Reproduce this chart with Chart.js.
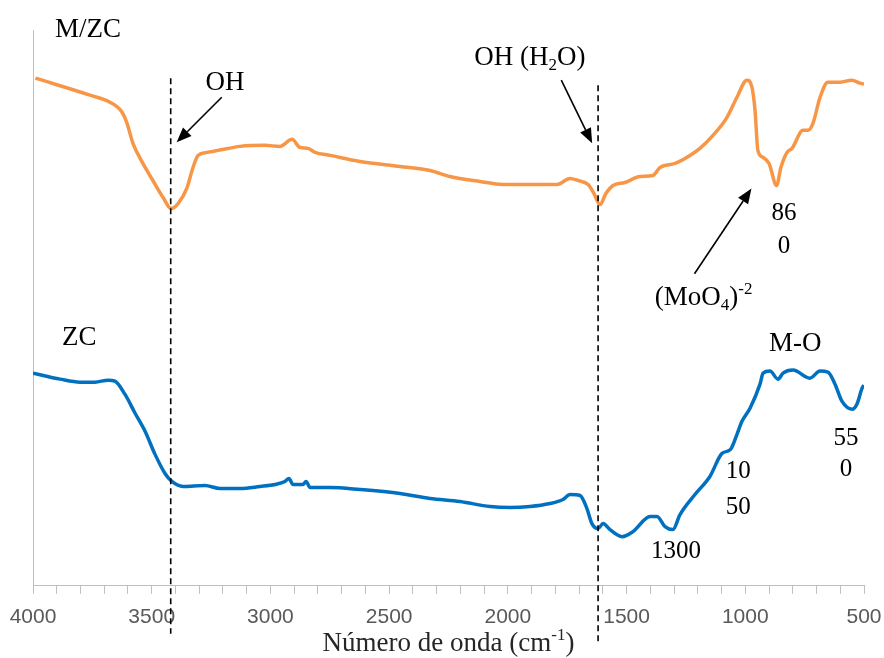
<!DOCTYPE html>
<html>
<head>
<meta charset="utf-8">
<script src="https://cdn.jsdelivr.net/npm/chart.js@4.4.1/dist/chart.umd.min.js"></script>
<style>
  body { margin: 0; background: #fff; }
  #wrap { width: 884px; height: 658px; }
</style>
</head>
<body>
<div id="wrap"><canvas id="ftirChart"></canvas></div>
<script>
// M/ZC spectrum: wavenumber (cm-1) and relative transmittance (offset, a.u.)
const mzcWave = [3990, 3760, 3676, 3625, 3604, 3579, 3537, 3495, 3452, 3419, 3389, 3351, 3330, 3305, 3267, 3221, 3128, 3023, 2960, 2909, 2876, 2842, 2812, 2749, 2623, 2454, 2328, 2244, 2117, 2021, 1907, 1793, 1738, 1705, 1662, 1637, 1612, 1587, 1557, 1507, 1443, 1389, 1359, 1296, 1233, 1191, 1136, 1077, 1035, 993, 972, 959, 947, 925, 900, 868, 850, 824, 803, 757, 736, 715, 685, 652, 601, 551, 517, 500];
const mzcT = [506, 489, 482, 472, 461, 441, 421, 404, 387, 376, 381, 397, 414, 429, 432, 434, 438, 439, 438, 445, 437, 436, 432, 429, 423, 418, 414, 408, 403, 400, 400, 400, 406, 404, 400, 391, 380, 391, 399, 402, 408, 409, 417, 421, 429, 436, 449, 467, 487, 504, 497, 474, 434, 427, 421, 399, 417, 432, 436, 454, 454, 461, 487, 502, 502, 504, 501, 500];

// ZC spectrum
const zcWave = [4000, 3886, 3802, 3739, 3684, 3655, 3613, 3570, 3528, 3486, 3444, 3415, 3368, 3276, 3212, 3128, 3044, 2981, 2939, 2922, 2905, 2863, 2850, 2833, 2749, 2623, 2454, 2328, 2202, 2075, 1991, 1907, 1823, 1768, 1738, 1696, 1667, 1646, 1620, 1599, 1570, 1519, 1473, 1401, 1372, 1338, 1305, 1275, 1212, 1149, 1098, 1062, 1035, 1014, 980, 938, 925, 896, 862, 841, 799, 728, 685, 652, 622, 593, 550, 530, 508, 500];
const zcT = [212, 206, 203, 203, 205, 204, 191, 172, 154, 131, 112, 104, 99, 100, 97, 97, 99, 101, 104, 107, 101, 101, 104, 98, 98, 96, 92, 87, 84, 79, 78, 79, 82, 86, 91, 90, 77, 62, 57, 62, 56, 49, 54, 69, 69, 59, 56, 71, 91, 109, 132, 136, 151, 164, 177, 201, 212, 214, 206, 212, 215, 207, 214, 213, 201, 184, 176, 181, 197, 200];

const xLabels = [4000, 3500, 3000, 2500, 2000, 1500, 1000, 500];
const markerLines = [3420, 1620];

const SERIF = '"Liberation Serif", "Times New Roman", serif';

function toPoints(xs, ys) {
    return xs.map((v, i) => ({ x: v, y: ys[i] }));
}

// draw a label built from pieces, some of them sub/superscript
function drawRich(ctx, parts, x, y, size, align) {
    const fontOf = p => (p[1] ? Math.round(size * 0.62) : size) + 'px ' + SERIF;
    let total = 0;
    parts.forEach(p => { ctx.font = fontOf(p); total += ctx.measureText(p[0]).width; });
    let cx = align === 'center' ? x - total / 2 : x;
    ctx.textAlign = 'left';
    ctx.textBaseline = 'middle';
    parts.forEach(p => {
        ctx.font = fontOf(p);
        let dy = 0;
        if (p[1] === 'sub') dy = size * 0.28;
        if (p[1] === 'sup') dy = -size * 0.3;
        ctx.fillText(p[0], cx, y + dy);
        cx += ctx.measureText(p[0]).width;
    });
}

function drawArrow(ctx, x1, y1, x2, y2) {
    const ang = Math.atan2(y2 - y1, x2 - x1);
    const head = 15, half = 6;
    const bx = x2 - head * Math.cos(ang), by = y2 - head * Math.sin(ang);
    ctx.beginPath();
    ctx.moveTo(x1, y1);
    ctx.lineTo(bx, by);
    ctx.lineWidth = 1.6;
    ctx.stroke();
    ctx.beginPath();
    ctx.moveTo(x2, y2);
    ctx.lineTo(bx + half * Math.sin(ang), by - half * Math.cos(ang));
    ctx.lineTo(bx - half * Math.sin(ang), by + half * Math.cos(ang));
    ctx.closePath();
    ctx.fill();
}

const annotations = {
    id: 'annotations',
    afterDatasetsDraw(chart) {
        const { ctx, chartArea } = chart;
        const x = chart.scales.x, y = chart.scales.y;
        const px = v => x.getPixelForValue(v);
        const py = v => y.getPixelForValue(v);
        ctx.save();
        ctx.fillStyle = '#000';
        ctx.strokeStyle = '#000';

        // dashed guide lines through the OH bands
        ctx.setLineDash([6, 4]);
        ctx.lineWidth = 1.6;
        ctx.beginPath();
        ctx.moveTo(px(markerLines[0]), py(506));
        ctx.lineTo(px(markerLines[0]), chartArea.bottom + 48);
        ctx.moveTo(px(markerLines[1]), py(499));
        ctx.lineTo(px(markerLines[1]), chartArea.bottom + 58);
        ctx.stroke();
        ctx.setLineDash([]);

        // arrows
        drawArrow(ctx, px(3205), py(487), px(3395), py(442));
        drawArrow(ctx, px(1775), py(504), px(1645), py(441));
        drawArrow(ctx, px(1214), py(311), px(974), py(396));

        // sample names and band labels
        drawRich(ctx, [['M/ZC']], px(3907), py(554), 27, 'left');
        drawRich(ctx, [['ZC']], px(3878), py(247), 27, 'left');
        drawRich(ctx, [['OH']], px(3191), py(501), 27, 'center');
        drawRich(ctx, [['OH (H'], ['2', 'sub'], ['O)']], px(1907), py(526), 27, 'center');
        drawRich(ctx, [['(MoO'], ['4', 'sub'], [')'], ['-2', 'sup']], px(1381), py(287), 27, 'left');
        drawRich(ctx, [['M-O']], px(790), py(241), 27, 'center');
        drawRich(ctx, [['86']], px(837), py(371), 25, 'center');
        drawRich(ctx, [['0']], px(837), py(338), 25, 'center');
        drawRich(ctx, [['55']], px(576), py(147), 25, 'center');
        drawRich(ctx, [['0']], px(576), py(116), 25, 'center');
        drawRich(ctx, [['10']], px(1030), py(114), 25, 'center');
        drawRich(ctx, [['50']], px(1030), py(78), 25, 'center');
        drawRich(ctx, [['1300']], px(1292), py(34), 25, 'center');

        // axis title
        ctx.fillStyle = '#262626';
        drawRich(ctx, [['Número de onda (cm'], ['-1', 'sup'], [')']],
            (chartArea.left + chartArea.right) / 2, chartArea.bottom + 58, 27, 'center');
        ctx.restore();
    }
};

new Chart(document.getElementById('ftirChart'), {
    type: 'line',
    data: {
        datasets: [{
            label: 'M/ZC',
            data: toPoints(mzcWave, mzcT),
            borderColor: '#F79646',
            borderWidth: 3.5,
            pointRadius: 0,
            cubicInterpolationMode: 'monotone',
            fill: false
        }, {
            label: 'ZC',
            data: toPoints(zcWave, zcT),
            borderColor: '#0070C0',
            borderWidth: 3.5,
            pointRadius: 0,
            cubicInterpolationMode: 'monotone',
            fill: false
        }]
    },
    options: {
        responsive: true,
        maintainAspectRatio: false,
        animation: false,
        layout: { padding: { top: 30, left: 25, right: 20, bottom: 17 } },
        plugins: {
            legend: { display: false },
            tooltip: { enabled: false }
        },
        scales: {
            x: {
                type: 'linear',
                reverse: true,
                min: 500,
                max: 4000,
                border: { color: '#bfbfbf', width: 1 },
                grid: { drawOnChartArea: false, tickLength: 8, color: '#bfbfbf' },
                ticks: {
                    stepSize: 100,
                    autoSkip: false,
                    maxRotation: 0,
                    padding: 11,
                    color: '#595959',
                    font: { family: '"Liberation Sans", Arial, sans-serif', size: 21 },
                    callback: v => xLabels.includes(v) ? String(v) : ''
                },
                // end labels may hang past the plot edges
                afterFit: scale => {
                    scale.paddingLeft = 0;
                    scale.paddingRight = 0;
                }
            },
            y: {
                min: 0,
                max: 554,
                border: { color: '#bfbfbf', width: 1 },
                grid: { display: false },
                ticks: { display: false }
            }
        }
    },
    plugins: [annotations]
});
</script>
</body>
</html>
